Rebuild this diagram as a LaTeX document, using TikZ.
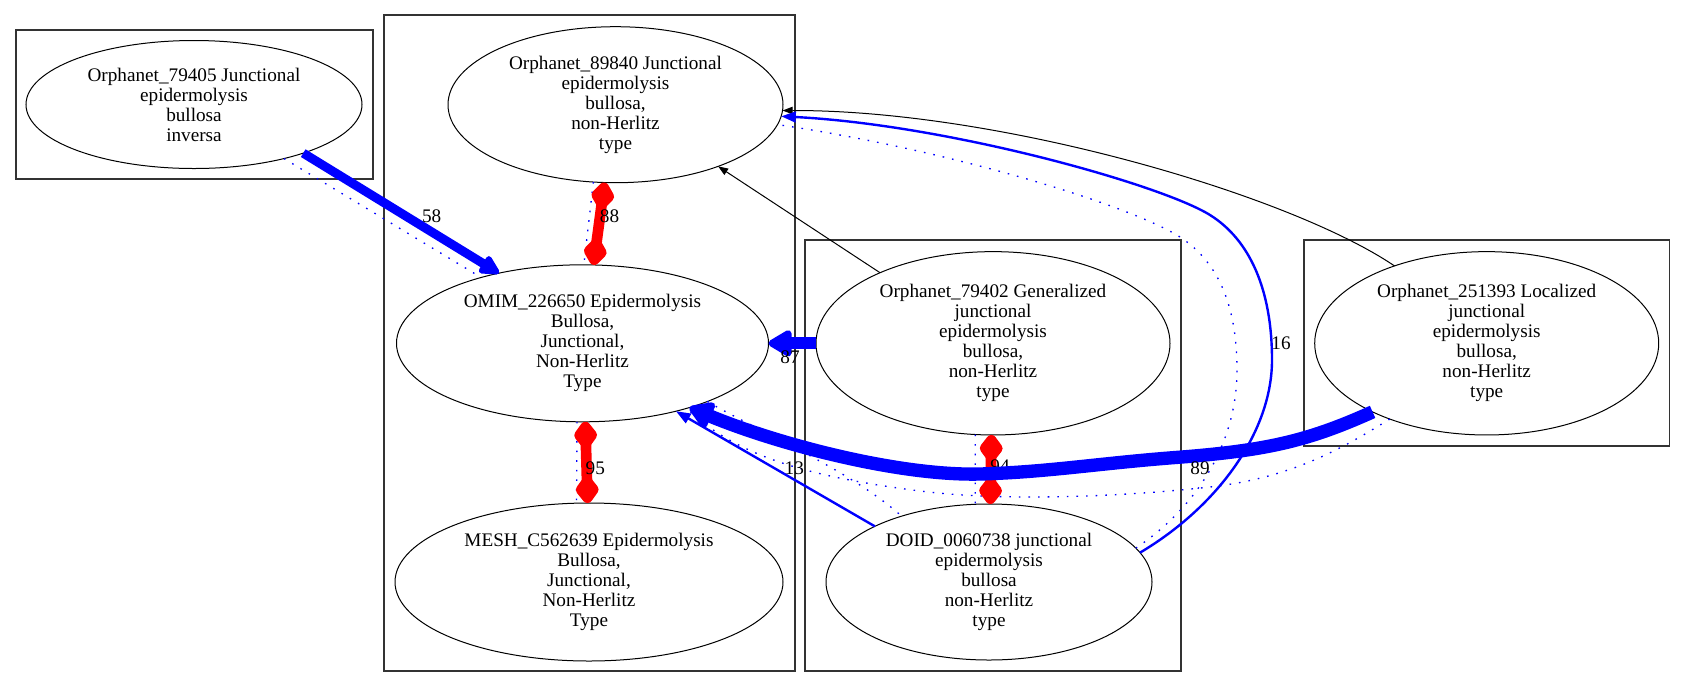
\documentclass[tikz,border=0pt]{standalone}
\usepackage{fontspec}
\setmainfont{Liberation Serif}
\usetikzlibrary{arrows.meta,shapes.geometric}
\begin{document}
\begin{tikzpicture}[x=0.75pt,y=-0.75pt,
  every node/.style={font=\fontsize{14.4}{15}\selectfont},
  ell/.style={draw, ellipse, inner sep=0pt, outer sep=0pt, align=center, line width=0.75pt},
  clus/.style={draw=black!80, line width=1pt},
  lbl/.style={inner sep=0pt},
  dotb/.style={blue, line width=1pt, dash pattern=on 1.2pt off 6pt},
  thinb/.style={blue, line width=1.8pt, -{Triangle[length=11pt,width=8pt]}},
  blk/.style={black, line width=0.75pt, -{Triangle[length=7.5pt,width=5.5pt]}},
  redd/.style={red, line width=8pt, {Diamond[length=25pt,width=19pt,round]}-{Diamond[length=25pt,width=19pt,round]}},
]
\useasboundingbox (0,0) rectangle (1685,687);
% clusters
\draw[clus] (16,30) rectangle (373,179);
\draw[clus] (384,15) rectangle (795,671);
\draw[clus] (805,240) rectangle (1181,671);
\draw[clus] (1304,240) rectangle (1669.5,446);
% nodes
\node[ell, minimum width=252pt, minimum height=96pt] (o79405) at (194,104.5) {Orphanet\_79405 Junctional\\epidermolysis\\bullosa\\inversa};
\node[ell, minimum width=251.25pt, minimum height=117pt] (o89840) at (615.5,104.7) {Orphanet\_89840 Junctional\\epidermolysis\\bullosa,\\non-Herlitz\\type};
\node[ell, minimum width=279pt, minimum height=117.75pt] (omim) at (582.5,343.3) {OMIM\_226650 Epidermolysis\\Bullosa,\\Junctional,\\Non-Herlitz\\Type};
\node[ell, minimum width=291pt, minimum height=118.5pt] (mesh) at (589,582) {MESH\_C562639 Epidermolysis\\Bullosa,\\Junctional,\\Non-Herlitz\\Type};
\node[ell, minimum width=265.5pt, minimum height=137.5pt] (o79402) at (993,343.3) {Orphanet\_79402 Generalized\\junctional\\epidermolysis\\bullosa,\\non-Herlitz\\type};
\node[ell, minimum width=244.5pt, minimum height=117pt] (doid) at (989,582) {DOID\_0060738 junctional\\epidermolysis\\bullosa\\non-Herlitz\\type};
\node[ell, minimum width=258pt, minimum height=137.5pt] (e251393) at (1486.7,343.3) {Orphanet\_251393 Localized\\junctional\\epidermolysis\\bullosa,\\non-Herlitz\\type};
% dotted edges
\draw[dotb] (o79405.-31.8) -- (omim.147.9);
\draw[dotb] (o89840.-106.8) -- (omim.89.6);
\draw[dotb] (omim.-94.7) -- (mesh.99.4);
\draw[dotb] (o79402.-101.6) -- (doid.100.7);
\draw[dotb] (omim.-25.7) .. controls (760,432) and (850,470) .. (doid.143.7);
\draw[dotb] (e251393.-142.5) .. controls (1340,450) and (1290,478) .. (1210,487) .. controls (1100,499) and (990,500) .. (920,491) .. controls (820,478) and (740,460) .. (omim.-32.1);
\draw[dotb] (doid.13.4) .. controls (1200,505) and (1237,440) .. (1237,370) .. controls (1237,300) and (1215,260) .. (1180,237) .. controls (1130,205) and (950,150) .. (o89840.-7);
% black edges
\draw[blk] (o79402.148.3) -- (o89840.-31.8);
\draw[blk] (e251393.140.5) .. controls (1290,195) and (1000,110) .. (o89840.-2.5);
% thin blue edges
\draw[thinb] (doid.11) .. controls (1220,505) and (1272,430) .. (1272,360) .. controls (1272,290) and (1250,240) .. (1210,215) .. controls (1162,185) and (950,125) .. (o89840.-4.25);
\node[lbl] (l16) at (1281,343) {16};
\draw[thinb] (doid.154.3) -- (omim.-36);
\node[lbl] (l13) at (794.3,468.3) {13};
% red edges
\draw[redd] (o89840.-98.5) -- (omim.82.4);
\node[lbl] (l88) at (609.5,216) {88};
\draw[redd] (omim.-88.2) -- (mesh.91.5);
\node[lbl] (l95) at (595.3,468.3) {95};
\draw[redd] (o79402.-91) -- (doid.89);
\node[lbl] (l94) at (1000,466.7) {94};
% thick blue edges
\draw[blue, line width=6.75pt, -{Triangle[length=17pt,width=16pt,round]}] (o79405.-24.8) -- (omim.140.6);
\node[lbl] (l58) at (431.7,216) {58};
\draw[blue, line width=9pt, -{Triangle[length=20pt,width=22pt,round]}] (o79402.180) -- (omim.0);
\node[lbl] (l87) at (790,356.7) {87};
\draw[blue, line width=10pt, -{Triangle[length=20pt,width=23pt,round]}] (e251393.-149.3) .. controls (1310,440) and (1270,450) .. (1182,457) .. controls (1100,463) and (1050,472) .. (980,474) .. controls (900,476) and (780,445) .. (omim.-31.1);
\node[lbl] (l89) at (1200,468) {89};
\end{tikzpicture}
\end{document}
